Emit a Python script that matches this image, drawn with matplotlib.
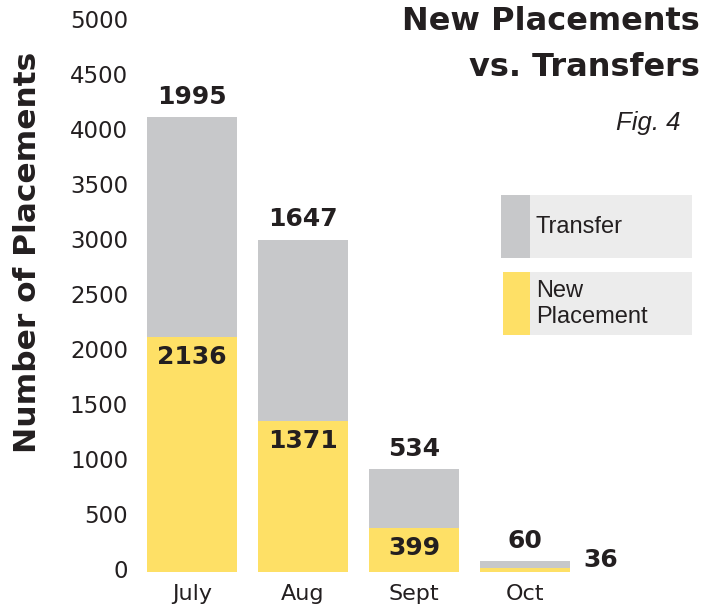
import numpy as np
import matplotlib
matplotlib.use('Agg')
import matplotlib.pyplot as plt
from matplotlib.patches import Rectangle
import matplotlib.transforms as mtransforms

months = ['July', 'Aug', 'Sept', 'Oct']
new_placements = [2136, 1371, 399, 36]
transfers = [1995, 1647, 534, 60]
ytick_values = [0, 500, 1000, 1500, 2000, 2500, 3000, 3500, 4000, 4500, 5000]

YELLOW = '#fee066'
GRAY = '#c7c8ca'
LEGBG = '#ececec'
TXT = '#231f20'

W, H = 720, 610
fig = plt.figure(figsize=(W / 100, H / 100), dpi=100)
fig.patch.set_facecolor('white')

def fx(px):
    return px / W

def fy(py):
    return 1 - py / H

ax_left, ax_right, ax_top, ax_bot = 142, 700, 21.5, 572
ax = fig.add_axes([fx(ax_left), fy(ax_bot), (ax_right - ax_left) / W, (ax_bot - ax_top) / H])

x = np.arange(len(months))
bw = 0.81
ax.bar(x, new_placements, width=bw, color=YELLOW, linewidth=0)
ax.bar(x, transfers, bottom=new_placements, width=bw, color=GRAY, linewidth=0)
ax.set_xlim(-0.45, 4.577)
ax.set_ylim(0, 5000)

for s in ax.spines.values():
    s.set_visible(False)
ax.set_yticks(ytick_values)
ax.set_yticklabels([str(v) for v in ytick_values], fontsize=16.5, color=TXT, family='DejaVu Sans')
ax.tick_params(axis='y', length=0, pad=10)
ax.set_xticks(x)
ax.set_xticklabels(months, fontsize=16, color=TXT, family='DejaVu Sans')
ax.tick_params(axis='x', length=0, pad=9)
off = mtransforms.ScaledTranslation(0, 3 / 100, fig.dpi_scale_trans)
for lab in ax.get_yticklabels():
    lab.set_transform(lab.get_transform() + off)

bold = dict(fontsize=18, fontweight='bold', color=TXT, family='DejaVu Sans')
for i in range(len(months)):
    n = new_placements[i]
    t = transfers[i]
    ax.annotate(str(t), (x[i], n + t), xytext=(0, 6), textcoords='offset points',
                ha='center', va='bottom', **bold)
    if n > 200:
        ax.annotate(str(n), (x[i], n), xytext=(0, -6), textcoords='offset points',
                    ha='center', va='top', **bold)
    else:
        ax.annotate(str(n), (x[i] + bw / 2, 0), xytext=(10, 0), textcoords='offset points',
                    ha='left', va='bottom', **bold)

fig.text(fx(28), fy(252), 'Number of Placements', rotation=90, ha='center', va='center',
         fontsize=22.5, fontweight='bold', color=TXT, family='DejaVu Sans')

fig.text(fx(700), fy(22), 'New Placements', ha='right', va='center',
         fontsize=23, fontweight='bold', color=TXT, family='DejaVu Sans')
fig.text(fx(700), fy(67), 'vs. Transfers', ha='right', va='center',
         fontsize=23, fontweight='bold', color=TXT, family='DejaVu Sans')
fig.text(fx(680), fy(123), 'Fig. 4', ha='right', va='center', fontsize=18.5,
         style='italic', color=TXT, family='Liberation Sans')

# legend
fig.add_artist(Rectangle((fx(501), fy(258)), (692 - 501) / W, (258 - 195) / H,
                         transform=fig.transFigure, color=LEGBG, lw=0))
fig.add_artist(Rectangle((fx(501), fy(258)), (530 - 501) / W, (258 - 195) / H,
                         transform=fig.transFigure, color=GRAY, lw=0))
fig.add_artist(Rectangle((fx(503), fy(335)), (692 - 503) / W, (335 - 272) / H,
                         transform=fig.transFigure, color=LEGBG, lw=0))
fig.add_artist(Rectangle((fx(503), fy(335)), (530 - 503) / W, (335 - 272) / H,
                         transform=fig.transFigure, color=YELLOW, lw=0))
fig.text(fx(536), fy(227), 'Transfer', ha='left', va='center', fontsize=17,
         color=TXT, family='Liberation Sans')
fig.text(fx(536), fy(304), 'New\nPlacement', ha='left', va='center', fontsize=17,
         color=TXT, family='Liberation Sans', linespacing=1.25)

fig.savefig('out.png', dpi=100, facecolor='white')
